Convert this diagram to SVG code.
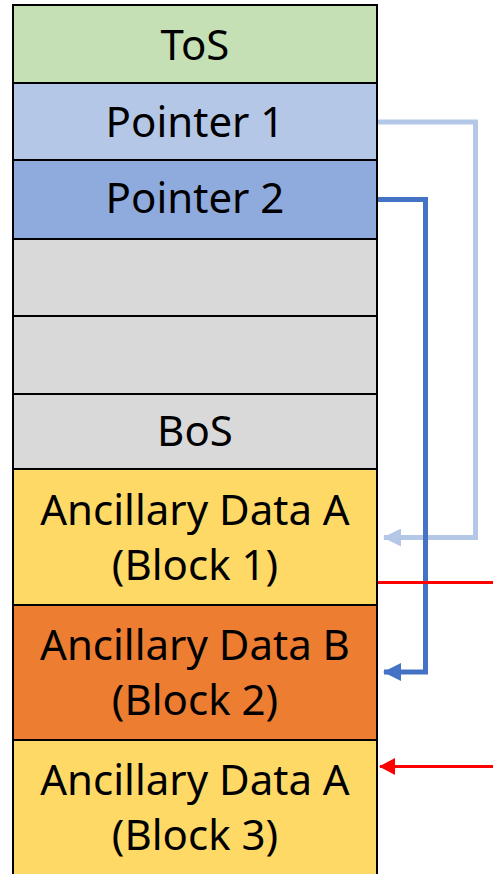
<svg xmlns="http://www.w3.org/2000/svg" width="493" height="874" viewBox="0 0 493 874">
  <style>
    .cell { stroke: #000; stroke-width: 2; }
    .lbl { font-family: "Noto Sans", "Open Sans", "DejaVu Sans", sans-serif; font-size: 42px; fill: #000; text-anchor: middle; }
    .ptr1 { fill: none; stroke: #B4C7E7; stroke-width: 5; }
    .ptr2 { fill: none; stroke: #4472C4; stroke-width: 5; }
    .red { fill: none; stroke: #FF0000; stroke-width: 3; }
  </style>
  <defs>
    <marker id="headLight" markerUnits="userSpaceOnUse" viewBox="0 0 18 18" markerWidth="18" markerHeight="18" refX="17" refY="9" orient="auto">
      <path d="M0,0 L18,9 L0,18 Z" fill="#B4C7E7"/>
    </marker>
    <marker id="headDark" markerUnits="userSpaceOnUse" viewBox="0 0 18 18" markerWidth="18" markerHeight="18" refX="17" refY="9" orient="auto">
      <path d="M0,0 L18,9 L0,18 Z" fill="#4472C4"/>
    </marker>
    <marker id="headRed" markerUnits="userSpaceOnUse" viewBox="0 0 16 17" markerWidth="16" markerHeight="17" refX="15" refY="8.5" orient="auto">
      <path d="M0,0 L16,8.5 L0,17 Z" fill="#FF0000"/>
    </marker>
  </defs>

  <!-- stack cells -->
  <g id="tos">
    <rect class="cell" x="13" y="5" width="364" height="78" fill="#C5E0B4"/>
    <text class="lbl" x="195" y="60">ToS</text>
  </g>
  <g id="pointer1">
    <rect class="cell" x="13" y="83" width="364" height="77" fill="#B4C7E7"/>
    <text class="lbl" x="195" y="137">Pointer 1</text>
  </g>
  <g id="pointer2">
    <rect class="cell" x="13" y="160" width="364" height="79" fill="#8FAADC"/>
    <text class="lbl" x="195" y="213">Pointer 2</text>
  </g>
  <g id="empty1">
    <rect class="cell" x="13" y="239" width="364" height="77" fill="#D9D9D9"/>
  </g>
  <g id="empty2">
    <rect class="cell" x="13" y="316" width="364" height="78" fill="#D9D9D9"/>
  </g>
  <g id="bos">
    <rect class="cell" x="13" y="394" width="364" height="75" fill="#D9D9D9"/>
    <text class="lbl" x="195" y="446">BoS</text>
  </g>
  <g id="block1">
    <rect class="cell" x="13" y="469" width="364" height="136" fill="#FFD966"/>
    <text class="lbl" x="195" y="525">Ancillary Data A</text>
    <text class="lbl" x="195" y="580">(Block 1)</text>
  </g>
  <g id="block2">
    <rect class="cell" x="13" y="605" width="364" height="135" fill="#ED7D31"/>
    <text class="lbl" x="195" y="660">Ancillary Data B</text>
    <text class="lbl" x="195" y="715">(Block 2)</text>
  </g>
  <g id="block3">
    <rect class="cell" x="13" y="740" width="364" height="140" fill="#FFD966"/>
    <text class="lbl" x="195" y="795">Ancillary Data A</text>
    <text class="lbl" x="195" y="850">(Block 3)</text>
  </g>

  <!-- connectors -->
  <g id="connectors">
    <polyline class="ptr1" points="378,122 475.5,122 475.5,537.5 384,537.5" marker-end="url(#headLight)"/>
    <polyline class="ptr2" points="378,199.5 425.5,199.5 425.5,672 384,672" marker-end="url(#headDark)"/>
    <line class="red" x1="378" y1="582.5" x2="493" y2="582.5"/>
    <line class="red" x1="493" y1="766.5" x2="380" y2="766.5" marker-end="url(#headRed)"/>
  </g>
</svg>
